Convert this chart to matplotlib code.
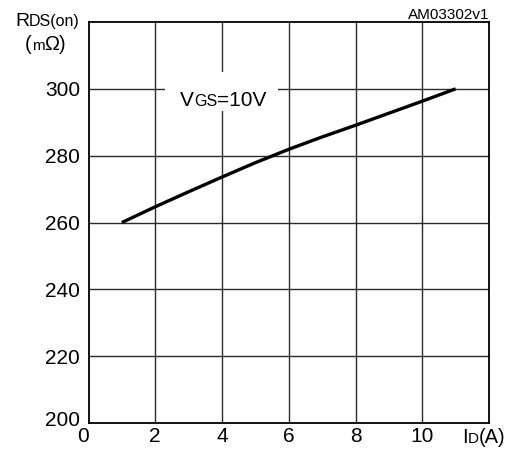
import matplotlib
matplotlib.use("Agg")
import matplotlib.pyplot as plt
from matplotlib.patches import Rectangle
from matplotlib.transforms import IdentityTransform, ScaledTranslation

# Drain current vs on-state resistance at VGS = 10 V
drain_current = [1, 2, 3, 4, 5, 6, 7, 8, 9, 10, 11]
r_ds_on = [260.0, 264.7, 269.2, 273.6, 277.9, 281.9, 285.6, 289.1, 292.7, 296.3, 300.0]

x_ticks = [0, 2, 4, 6, 8, 10]
y_ticks = [200, 220, 240, 260, 280, 300]

plt.rcParams['font.family'] = ['Liberation Sans', 'DejaVu Sans']

W, H = 514, 450
fig = plt.figure(figsize=(W / 100, H / 100), dpi=100)
ax = fig.add_axes([88.5 / W, 1 - 423 / H, (489 - 88.5) / W, (423 - 22) / H])

ax.set_xlim(0, 12)
ax.set_ylim(200, 320)
ax.set_xticks(x_ticks)
ax.set_yticks(y_ticks)
ax.tick_params(length=0, labelsize=15, colors='black')
ax.tick_params(axis='y', pad=6)
ax.tick_params(axis='x', pad=3)
for s in ax.spines.values():
    s.set_linewidth(1.3)
    s.set_color('black')

# grid lines (skip the axes edges)
for xv in x_ticks[1:]:
    ax.axvline(xv, color='#2a2a2a', lw=1.0, zorder=1)
for yv in y_ticks[1:]:
    ax.axhline(yv, color='#2a2a2a', lw=1.0, zorder=1)

ax.plot(drain_current, r_ds_on, color='black', lw=2.4, zorder=3,
        solid_capstyle='butt', solid_joinstyle='round')

# small nudges on the corner labels so "0" and "200" don't collide
fig.canvas.draw()
for lbl in ax.get_yticklabels():
    if lbl.get_text() == '200':
        lbl.set_transform(lbl.get_transform() + ScaledTranslation(0, 5 / 100, fig.dpi_scale_trans))
for lbl in ax.get_xticklabels():
    if lbl.get_text() == '0':
        lbl.set_transform(lbl.get_transform() + ScaledTranslation(-5 / 100, 0, fig.dpi_scale_trans))

# label box for the gate voltage
ax.add_patch(Rectangle((2.29, 293.3), 3.38, 11.7, facecolor='white',
                       edgecolor='none', zorder=2))

renderer = fig.canvas.get_renderer()


def text_run(x_px, y_px, pieces, ha='left'):
    """Draw text pieces of mixed size on one baseline, at pixel coords from top-left."""
    items = []
    total = 0.0
    for s, size in pieces:
        t = fig.text(0, 0, s, fontsize=size, transform=IdentityTransform(),
                     ha='left', va='baseline', zorder=5)
        w = t.get_window_extent(renderer).width
        items.append((t, w))
        total += w
    x = x_px - total if ha == 'right' else x_px
    for t, w in items:
        t.set_position((x, H - y_px))
        x += w


text_run(15, 26, [('R', 14), ('DS(on)', 11.5)])
text_run(25, 50, [('(', 14.5), ('m', 11), ('Ω', 14.5), (')', 14.5)])
text_run(489, 19, [('AM03302v1', 11)], ha='right')
text_run(462, 443, [('I', 14.5), ('D', 11), ('(A)', 14.5)])
text_run(180, 106, [('V', 15), ('GS', 11.5), ('=10V', 15)])

fig.savefig('out.png', dpi=100)
